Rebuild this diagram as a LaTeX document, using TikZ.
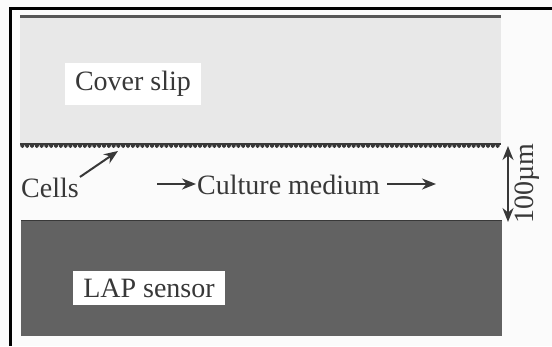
\documentclass[tikz,border=0pt]{standalone}
\usepackage{fontspec}
\setmainfont{Liberation Serif}
\usepackage{tikz}
\usetikzlibrary{arrows.meta,positioning}
\definecolor{inkx}{HTML}{383838}
\definecolor{slipx}{HTML}{E8E8E8}
\definecolor{sensx}{HTML}{626262}
\definecolor{paperx}{HTML}{FBFBFB}
\tikzset{
  lbl/.style={fill=white,text=inkx,inner xsep=10pt,inner ysep=8pt,font=\fontsize{28}{33}\selectfont},
  txt/.style={text=inkx,inner sep=1pt,font=\fontsize{28}{33}\selectfont},
  ar/.style={-{Stealth[length=14pt,width=11pt]},line width=2pt,inkx},
  dar/.style={{Stealth[length=14pt,width=11pt]}-{Stealth[length=14pt,width=11pt]},line width=2pt,inkx}
}

\begin{document}
\begin{tikzpicture}[x=1pt,y=-1pt]
\useasboundingbox (0,0) rectangle (552,346);
\fill[paperx] (0,0) rectangle (552,346);
% frame
\draw[line width=3pt,black] (552,8) -- (10.5,8) -- (10.5,346);
% cover slip with cell layer underneath
\fill[slipx] (20,16) rectangle (501,144);
\draw[line width=3pt,inkx!85] (20,16.5) -- (501,16.5);
\draw[line width=2.5pt,inkx] (20,144) -- (501,144);
\foreach \x in {20,24.8,...,497}
  \fill[inkx] (\x,144) arc (180:0:2.4 and 4) -- cycle;
% sensor
\fill[sensx] (21,220) rectangle (502,336);
\draw[line width=1.5pt,inkx] (21,220.5) -- (502,220.5);
% labels
\node[lbl] (slip) at (133,84) {Cover slip};
\node[lbl] (sensor) at (149,288) {LAP sensor};
\node[txt] (cells) at (50,188) {Cells};
\node[txt,anchor=west] (medium) at (196,185) {Culture medium};
\coordinate (celltip) at (118,151);
\coordinate (inflow) at (157,184);
\coordinate (outflow) at (436,184);
\draw[ar] (cells.north east) -- (celltip);
\draw[ar] (inflow) -- (inflow -| medium.west);
\draw[ar] ([xshift=6pt]medium.east |- outflow) -- (outflow);
% gap height
\coordinate (gtop) at (508,146);
\coordinate (gbot) at (508,222);
\draw[dar] (gtop) -- (gbot);
\node[txt,rotate=90] (gap) at (527,184) {100µm};
\end{tikzpicture}
\end{document}
